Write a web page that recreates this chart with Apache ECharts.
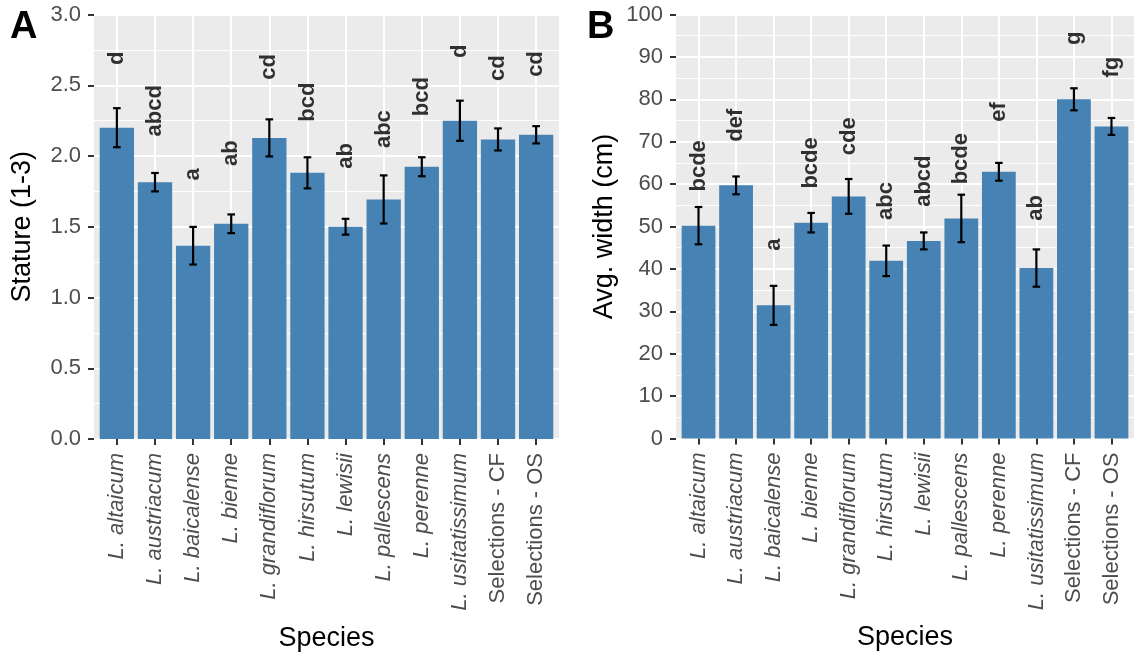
<!DOCTYPE html>
<html>
<head>
<meta charset="utf-8">
<script src="https://cdn.jsdelivr.net/npm/echarts@6/dist/echarts.min.js"></script>
<style>
  html, body { margin: 0; padding: 0; background: #fff; }
  #chart { width: 1139px; height: 659px; }
</style>
</head>
<body>
<div id="chart"></div>
<script>
// species on the x axis (both panels)
var species = ['L. altaicum', 'L. austriacum', 'L. baicalense', 'L. bienne', 'L. grandiflorum',
  'L. hirsutum', 'L. lewisii', 'L. pallescens', 'L. perenne', 'L. usitatissimum',
  'Selections - CF', 'Selections - OS'];

// panel A - stature (1-3)
var statureMean = [2.20, 1.815, 1.366, 1.521, 2.128, 1.881, 1.50, 1.693, 1.924, 2.249, 2.117, 2.150];
var statureSe = [0.138, 0.065, 0.133, 0.066, 0.131, 0.11, 0.056, 0.17, 0.067, 0.142, 0.078, 0.061];
var statureLetters = ['d', 'abcd', 'a', 'ab', 'cd', 'bcd', 'ab', 'abc', 'bcd', 'd', 'cd', 'cd'];
var statureLetterY = [2.69, 2.32, 1.87, 2.02, 2.63, 2.38, 2.00, 2.19, 2.42, 2.74, 2.62, 2.65];

// panel B - avg. width (cm)
var widthMean = [50.2, 59.7, 31.4, 50.9, 57.1, 41.9, 46.6, 51.9, 62.9, 40.2, 80.0, 73.6];
var widthSe = [4.4, 2.1, 4.6, 2.3, 4.1, 3.6, 2.0, 5.6, 2.1, 4.4, 2.6, 2.0];
var widthLetters = ['bcde', 'def', 'a', 'bcde', 'cde', 'abc', 'abcd', 'bcde', 'ef', 'ab', 'g', 'fg'];
var widthLetterY = [64.3, 73.9, 45.7, 65.0, 71.3, 56.0, 60.7, 66.0, 77.0, 54.4, 94.4, 87.6];

var FONT = '"Liberation Sans", Arial, sans-serif';
var GREY_TXT = '#4D4D4D';

var chart = echarts.init(document.getElementById('chart'));

var grids = [], xAxes = [], yAxes = [], series = [];

// builds one ggplot-like panel; box = grey panel rectangle in px
function addPanel(box, yMax, yStep, yName, decimals, means, ses, letters, letterY) {
  var gBg = grids.length, gMain = gBg + 1;
  var band = box.width / 12.2;     // discrete scale expands 0.6 each side
  grids.push({ left: box.left, top: box.top, width: box.width, height: box.height,
    show: true, backgroundColor: '#EBEBEB', borderWidth: 0 });
  grids.push({ left: box.left + band * 0.1, top: box.top, width: band * 12, height: box.height });

  var xBg = xAxes.length;
  xAxes.push({ gridIndex: gBg, type: 'value', min: 0, max: 1, show: false });
  var xCat = xAxes.length;
  xAxes.push({
    gridIndex: gMain, type: 'category', data: species,
    axisLine: { show: false },
    axisTick: { show: true, alignWithLabel: true, length: 6, lineStyle: { color: '#333', width: 2 } },
    axisLabel: {
      rotate: 90, margin: 14, interval: 0,
      formatter: function (v) { return v.indexOf('L.') === 0 ? '{i|' + v + '}' : '{n|' + v + '}'; },
      rich: {
        i: { fontFamily: FONT, fontSize: 22, fontStyle: 'italic', color: GREY_TXT },
        n: { fontFamily: FONT, fontSize: 22, color: GREY_TXT }
      }
    },
    splitLine: { show: false },
    name: 'Species', nameLocation: 'middle', nameGap: 186,
    nameTextStyle: { fontFamily: FONT, fontSize: 27, color: '#000' }
  });
  // vertical white grid lines at the category centres
  xAxes.push({
    gridIndex: gMain, type: 'value', min: 0, max: 12, interval: 1,
    axisLine: { show: false }, axisTick: { show: false }, axisLabel: { show: false },
    splitLine: { show: false },
    minorTick: { show: false, splitNumber: 2 },
    minorSplitLine: { show: true, lineStyle: { color: '#fff', width: 2 } }
  });

  yAxes.push({
    gridIndex: gBg, type: 'value', min: 0, max: yMax, interval: yStep,
    axisLine: { show: false },
    axisTick: { show: true, length: 6, lineStyle: { color: '#333', width: 2 } },
    axisLabel: { fontFamily: FONT, fontSize: 22, color: GREY_TXT, margin: 13,
      formatter: function (v) { return v.toFixed(decimals); } },
    splitLine: { show: true, lineStyle: { color: '#fff', width: 2 } },
    minorTick: { show: false, splitNumber: 2 },
    minorSplitLine: { show: true, lineStyle: { color: '#fff', width: 1 } },
    name: yName, nameLocation: 'middle', nameGap: 58,
    nameTextStyle: { fontFamily: FONT, fontSize: 27, color: '#000' }
  });
  var yMain = yAxes.length;
  yAxes.push({ gridIndex: gMain, type: 'value', min: 0, max: yMax, show: false });

  series.push({
    type: 'bar', xAxisIndex: xCat, yAxisIndex: yMain,
    data: means, barWidth: '90%',
    itemStyle: { color: '#4682B4' }
  });
  series.push({
    type: 'custom', xAxisIndex: xCat, yAxisIndex: yMain, z: 5,
    data: means.map(function (m, i) { return [i, m - ses[i], m + ses[i]]; }),
    encode: { x: 0, y: [1, 2] },
    renderItem: function (params, api) {
      var lo = api.coord([api.value(0), api.value(1)]);
      var hi = api.coord([api.value(0), api.value(2)]);
      var half = api.size([1, 0])[0] * 0.1;
      var st = { stroke: '#000', lineWidth: 2.2 };
      return { type: 'group', children: [
        { type: 'line', shape: { x1: hi[0], y1: hi[1], x2: lo[0], y2: lo[1] }, style: st },
        { type: 'line', shape: { x1: hi[0] - half, y1: hi[1], x2: hi[0] + half, y2: hi[1] }, style: st },
        { type: 'line', shape: { x1: lo[0] - half, y1: lo[1], x2: lo[0] + half, y2: lo[1] }, style: st }
      ] };
    }
  });
  series.push({
    type: 'scatter', xAxisIndex: xCat, yAxisIndex: yMain, z: 6,
    data: letterY.map(function (v, i) { return [i, v]; }),
    symbolSize: 1, itemStyle: { color: 'rgba(0,0,0,0)' },
    label: {
      show: true, position: 'inside', rotate: 90,
      fontFamily: FONT, fontSize: 22, fontWeight: 'bold', color: '#000',
      formatter: function (p) { return letters[p.dataIndex]; }
    }
  });
}

addPanel({ left: 94, top: 14.5, width: 465, height: 424.5 }, 3, 0.5, 'Stature (1-3)', 1,
  statureMean, statureSe, statureLetters, statureLetterY);
addPanel({ left: 676, top: 14.5, width: 458, height: 424 }, 100, 10, 'Avg. width (cm)', 0,
  widthMean, widthSe, widthLetters, widthLetterY);

chart.setOption({
  animation: false,
  backgroundColor: '#fff',
  textStyle: { fontFamily: FONT },
  grid: grids,
  xAxis: xAxes,
  yAxis: yAxes,
  series: series,
  graphic: [
    { type: 'text', left: 10, top: 9, style: { text: 'A', font: 'bold 38px ' + FONT, fill: '#000' } },
    { type: 'text', left: 587, top: 9, style: { text: 'B', font: 'bold 38px ' + FONT, fill: '#000' } }
  ]
});
</script>
</body>
</html>
